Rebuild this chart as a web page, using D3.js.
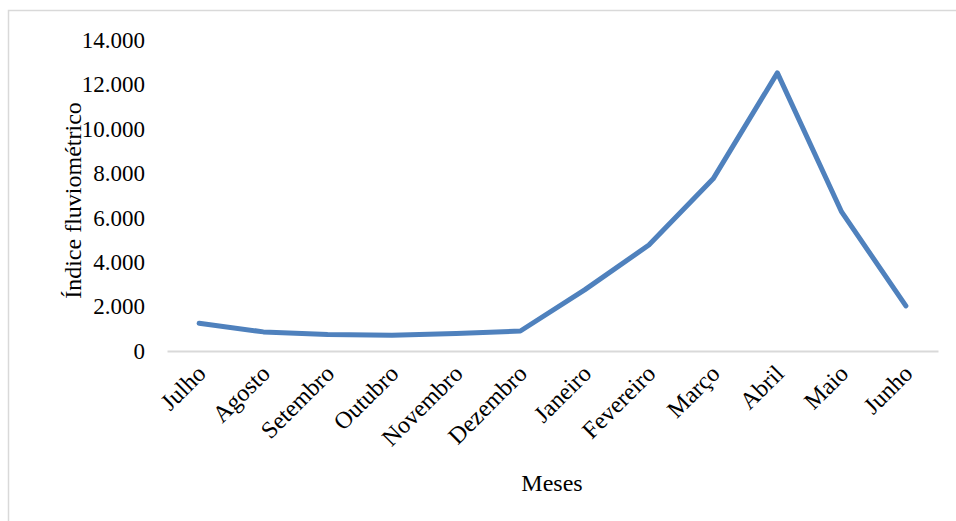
<!DOCTYPE html>
<html lang="pt">
<head>
<meta charset="UTF-8">
<title>Índice fluviométrico</title>
<script src="https://d3js.org/d3.v7.min.js"></script>
<style>
  body { margin: 0; background: #fff; }
  text { font-family: "Liberation Serif", "Times New Roman", serif; fill: #000; }
</style>
</head>
<body>
<div id="plot"></div>
<script>
// data
var months = ["Julho", "Agosto", "Setembro", "Outubro", "Novembro", "Dezembro",
              "Janeiro", "Fevereiro", "Março", "Abril", "Maio", "Junho"];
var values = [1250, 860, 740, 710, 790, 900, 2750, 4770, 7750, 12520, 6260, 2030];
var yTicks = [0, 2000, 4000, 6000, 8000, 10000, 12000, 14000];

var width = 956, height = 521;
var margin = { left: 167, right: 18, top: 40, bottom: 170 };

var svg = d3.select("#plot").append("svg")
    .attr("width", width)
    .attr("height", height);

// chart area border
svg.append("rect")
    .attr("x", 8.5).attr("y", 10.5)
    .attr("width", 960).attr("height", 530)
    .attr("fill", "none")
    .attr("stroke", "#d9d9d9")
    .attr("stroke-width", 1.5);

var x = d3.scaleBand()
    .domain(months)
    .range([margin.left, width - margin.right]);

var y = d3.scaleLinear()
    .domain([0, 14000])
    .range([height - margin.bottom, margin.top]);

var fmt = function (d) { return d3.format(",")(d).replace(/,/g, "."); };

// y tick labels (no axis line)
var yAxis = svg.append("g")
    .attr("transform", "translate(" + margin.left + ",0)")
    .call(d3.axisLeft(y).tickValues(yTicks).tickFormat(fmt).tickSize(0).tickPadding(22));
yAxis.select(".domain").remove();
yAxis.selectAll("text")
    .style("font-size", "23px")
    .style("font-family", "Liberation Serif, serif");

// x axis line
var xAxis = svg.append("g")
    .attr("transform", "translate(0," + y(0) + ")")
    .call(d3.axisBottom(x).tickSize(0).tickPadding(0));
xAxis.select(".domain")
    .attr("stroke", "#d9d9d9")
    .attr("stroke-width", 2);
xAxis.selectAll("text")
    .style("font-size", "24px")
    .style("font-family", "Liberation Serif, serif")
    .attr("text-anchor", "end")
    .attr("dy", "0")
    .attr("transform", "translate(8,24) rotate(-45)");

// line
var line = d3.line()
    .x(function (d, i) { return x(months[i]) + x.bandwidth() / 2; })
    .y(function (d) { return y(d); });

svg.append("path")
    .datum(values)
    .attr("d", line)
    .attr("fill", "none")
    .attr("stroke", "#4f81bd")
    .attr("stroke-width", 5)
    .attr("stroke-linecap", "round")
    .attr("stroke-linejoin", "round");

// axis titles
svg.append("text")
    .attr("transform", "translate(75," + ((y(0) + y(14000)) / 2 + 5) + ") rotate(-90)")
    .attr("text-anchor", "middle")
    .attr("dominant-baseline", "middle")
    .style("font-size", "24px")
    .text("Índice fluviométrico");

svg.append("text")
    .attr("x", 552)
    .attr("y", 491)
    .attr("text-anchor", "middle")
    .style("font-size", "24px")
    .text("Meses");
</script>
</body>
</html>
